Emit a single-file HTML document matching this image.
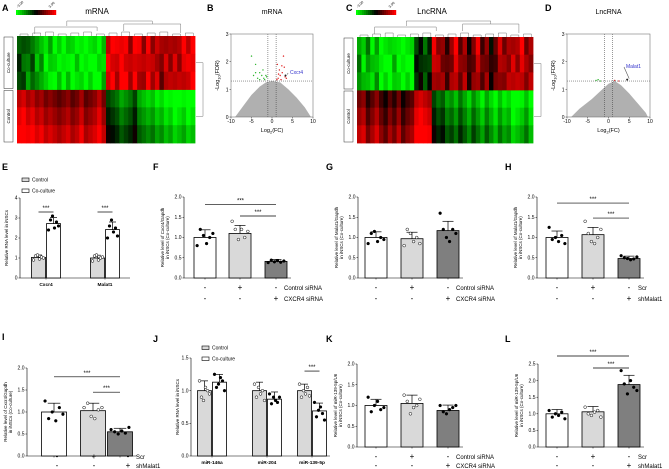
<!DOCTYPE html>
<html><head><meta charset="utf-8">
<style>
html,body{margin:0;padding:0;background:#fff;}
svg{display:block;font-family:"Liberation Sans",sans-serif;}
</style></head>
<body>
<svg id="fig" width="669" height="469" viewBox="0 0 669 469"></svg>
<script>
// ---------- data ----------
const hmA_top=[-0.2,-0.3,-0.5,-0.4,-0.7,-0.6,-0.9,-0.8,-1,-0.9,-1,-0.8,-1,-0.9,-1,-1,-0.9,-1,-1,-0.8,0.9,1,0.8,1,0.9,0.7,1,0.8,0.6,0.9,0.7,0.8,0.5,0.7,0.6,0.8,0.7,0.9,0.8,1];
const hmA_bot=[0.9,1,0.8,0.9,0.7,0.8,0.6,0.7,0.6,0.5,0.6,0.7,0.5,0.6,0.8,0.5,0.6,0.7,0.9,0.6,-0.1,-0.2,-0.3,-0.5,-0.4,-0.3,-0.1,-0.5,-0.6,-0.7,-0.6,-0.8,-0.7,-0.9,-0.8,-1,-0.9,-0.8,-1,-0.9];
const hmC_top=[-0.5,-0.8,-0.6,-0.9,-0.7,-1,-0.9,-1,-0.8,-1,-1,-0.9,-1,-0.2,-0.1,-0.3,-0.1,0.8,0.6,0.5,0.3,0.6,0.9,0.4,0.6,0.2,0.5,0.8,0.3,0.5,0.1,0.4,0.7,0.5,0.6,0.8,0.7,0.9,0.5,0.6];
const hmC_bot=[0.6,0.7,0.3,0.5,0.7,0.4,0.2,0.5,0.3,0.6,0.2,0.4,0.5,0.9,1,0.9,0.8,-0.1,-0.3,-0.2,-0.5,-0.4,-0.6,-0.3,-0.5,-0.7,-0.4,-0.6,-0.8,-0.5,-0.7,-0.9,-0.6,-0.8,-0.7,-1,-0.9,-0.8,-0.6,-0.9];
const volcB_cloud=[[-9,0],[-7,0.4],[-5,0.8],[-3,1.1],[-1.5,1.25],[0,1.3],[2,1.25],[4,1.0],[6,0.7],[8,0.35],[9.5,0]];
const volcB_green=[[-5,2.2],[-4,1.9],[-3,1.6],[-2.5,1.5],[-2,1.4],[-3.5,1.4],[-1.5,1.5],[-4.5,1.5],[-2.2,1.7],[-1.8,1.35],[-3,1.35],[-4,1.6],[-1.3,1.45]];
const volcB_red=[[1.5,1.4],[2,1.5],[2.5,1.6],[3,1.8],[1.8,1.7],[2.2,1.35],[3.2,1.45],[1.3,1.9],[2.8,2.2],[1.6,1.55],[2.4,1.85],[3.5,1.4],[1.2,1.35]];
const volcD_cloud=[[-9,0],[-7,0.3],[-4,0.65],[-1.5,1.0],[0,1.2],[1.5,1.3],[3,1.15],[5,0.85],[7,0.5],[9,0.15],[9.5,0]];
const volcD_green=[[-3,1.32],[-2.5,1.35],[-2,1.3]];
const volcD_red=[[1.5,1.32],[2.5,1.3]];
const E_cats=["Cxcr4","Malat1"];
const E_ctrl=[1.03,1.0], E_ctrlErr=[0.12,0.14];
const E_co=[2.72,2.42], E_coErr=[0.3,0.38];
const E_ctrlPts=[[0.9,1.1,1.15,0.95,1.05,1.0],[0.85,1.1,1.15,0.9,1.0,1.05]];
const E_coPts=[[2.4,2.9,3.1,2.5,2.8,2.6],[2.0,2.6,2.9,2.3,2.5,2.1]];
const F_vals=[1.0,1.1,0.41], F_err=[0.19,0.2,0.05];
const F_pts=[[0.8,1.2,1.05,0.85,1.0,1.1],[1.4,1.2,0.95,1.2,1.0,1.15],[0.38,0.44,0.4,0.43,0.39,0.42]];
const G_vals=[1.0,0.97,1.17], G_err=[0.14,0.16,0.23];
const G_pts=[[0.85,1.1,1.15,0.9,1.0,0.95],[0.8,1.2,1.1,0.9,1.0,0.85],[1.6,1.2,1.0,0.9,1.2,1.1]];
const H_vals=[1.0,1.07,0.48], H_err=[0.16,0.18,0.06];
const H_pts=[[1.25,0.95,1.0,0.9,1.05,0.85],[1.4,1.1,0.9,0.85,1.0,1.2],[0.55,0.5,0.48,0.45,0.47,0.52]];
const I_vals=[1.0,1.03,0.55], I_err=[0.2,0.17,0.08];
const I_pts=[[1.25,0.85,1.0,0.8,1.1,0.95],[1.1,1.2,0.9,0.85,1.05,1.1],[0.6,0.55,0.5,0.57,0.52,0.65]];
const J_cats=["miR-146a","miR-204","miR-139-5p"];
const J_ctrl=[1.0,1.0,1.0], J_ctrlErr=[0.15,0.13,0.1];
const J_co=[1.13,0.87,0.69], J_coErr=[0.12,0.11,0.12];
const J_ctrlPts=[[1.15,0.9,0.85,1.05,1.0,0.95],[1.1,0.9,1.05,0.95,1.0,0.85],[1.1,0.9,1.0,0.95,1.05,0.92]];
const J_coPts=[[1.25,1.05,1.1,1.2,1.15,1.0],[0.95,0.8,0.9,0.85,0.82,0.9],[0.82,0.6,0.7,0.75,0.65,0.55]];
const K_vals=[1.0,1.05,0.88], K_err=[0.15,0.2,0.13];
const K_pts=[[1.2,0.85,1.0,1.1,0.9,0.95],[1.25,1.1,0.8,0.95,1.0,1.15],[1.0,0.85,0.8,0.9,0.95,1.0]];
const L_vals=[1.0,1.06,1.88], L_err=[0.13,0.16,0.28];
const L_pts=[[1.1,0.9,1.0,0.95,1.05,0.85],[1.2,1.0,0.95,1.05,1.1,0.9],[2.3,1.9,1.6,2.0,1.8,1.7]];

// ---------- helpers ----------
const S=document.getElementById('fig');
const NS="http://www.w3.org/2000/svg";
function mk(tag,attrs,parent){const e=document.createElementNS(NS,tag);for(const k in attrs)e.setAttribute(k,attrs[k]);(parent||S).appendChild(e);return e;}
function txt(x,y,s,size,opts,parent){opts=opts||{};const t=mk('text',{x:x,y:y,'font-size':size,'text-anchor':opts.anchor||'start',fill:opts.fill||'#000','font-weight':opts.bold?'bold':'normal'},parent);if(opts.rot)t.setAttribute('transform','rotate(-90 '+x+' '+y+')');t.textContent=s;return t;}
function hmColor(v){v=Math.max(-1,Math.min(1,v));if(v>=0)return 'rgb('+Math.round(255*v)+',0,0)';return 'rgb(0,'+Math.round(255*-v)+',0)';}

[["A",2,11],["B",207,11],["C",346,11],["D",545,11],["E",2,170],["F",153,170],["G",326,170],["H",505,170],["I",2,340],["J",153,342],["K",326,342],["L",505,342]].forEach(p=>{
  const t=txt(p[1],p[2],p[0],9,{bold:true});
  
  
});

// ---------- heatmap ----------
function heatmap(x0,y0,x1,y1,top,bot,title,cbx,tx,name){
  const g=mk('g',{});
  
  
  const n=top.length,w=(x1-x0)/n,ym=(y0+y1)/2,rh=(ym-y0)/3;
  for(let i=0;i<n;i++){
    for(let r=0;r<3;r++){
      const jt=((i*7+r*3)%5-2)*0.08, jb=((i*5+r*2)%5-2)*0.08;
      mk('rect',{x:x0+i*w,y:y0+r*rh,width:w+0.4,height:rh+0.4,fill:hmColor(top[i]+jt)},g);
      mk('rect',{x:x0+i*w,y:ym+r*rh,width:w+0.4,height:rh+0.4,fill:hmColor(bot[i]+jb)},g);
    }
  }
  const cb=mk('g',{},g);
  
  
  for(let i=0;i<20;i++)mk('rect',{x:cbx+i*2,y:10,width:2.2,height:5,fill:hmColor(-1+i/9.5)},cb);
  txt(cbx+2,8,"-3.00",3.5,{},cb).setAttribute('transform','rotate(-45 '+(cbx+2)+' 8)');
  txt(cbx+34,8,"3.00",3.5,{},cb).setAttribute('transform','rotate(-45 '+(cbx+34)+' 8)');
  const tt=txt(tx,14,title,8,{anchor:'middle'},g);
  
  
  [[y0,ym,"Co-culture"],[ym,y1,"Control"]].forEach(rw=>{
    mk('rect',{x:x0-13,y:rw[0]+1,width:9,height:rw[1]-rw[0]-2,fill:'none',stroke:'#333','stroke-width':0.5},g);
    txt(x0-7,(rw[0]+rw[1])/2,rw[2],4.5,{anchor:'middle',rot:true},g);
  });
  const dc='#777',sw=0.5;
  const xl=x0+(x1-x0)*0.28, xr=x0+(x1-x0)*0.76;
  mk('path',{d:`M${xl} 26 V21 H${xr} V24`,stroke:dc,'stroke-width':sw,fill:'none'},g);
  mk('path',{d:`M${x0+(x1-x0)*0.1} 34 V27 H${x0+(x1-x0)*0.45} V31 M${x0+(x1-x0)*0.6} 31 V24 H${x0+(x1-x0)*0.92} V33`,stroke:dc,'stroke-width':sw,fill:'none'},g);
  for(let i=0;i<14;i++){const a=x0+(x1-x0)*(i/14)+3;mk('path',{d:`M${a} ${y0} V${y0-2-(i%3)} H${a+8} V${y0}`,stroke:dc,'stroke-width':sw,fill:'none'},g);}
  mk('path',{d:`M${x1+1} ${(y0+ym)/2} H${x1+8} V${(ym+y1)/2} H${x1+1}`,stroke:dc,'stroke-width':sw,fill:'none'},g);
}
heatmap(17,36,195,143,hmA_top,hmA_bot,"mRNA",16,97,'heatmap-mrna');
heatmap(357,37,533,143,hmC_top,hmC_bot,"LncRNA",356,432,'heatmap-lncrna');

// ---------- volcano ----------
function volcano(x0,y0,x1,y1,cloud,green,red,title,name,gene,gx,gy,lx,ly){
  const g=mk('g',{});
  
  
  const X=v=>x0+(v+10)/20*(x1-x0), Y=v=>y1-v/3*(y1-y0);
  mk('polygon',{points:cloud.map(p=>X(p[0])+','+Y(p[1])).join(' '),fill:'#b0b0b0'},g);
  green.forEach(p=>mk('circle',{cx:X(p[0]),cy:Y(p[1]),r:0.7,fill:'#2db52d'},g));
  red.forEach(p=>mk('circle',{cx:X(p[0]),cy:Y(p[1]),r:0.7,fill:'#e02020'},g));
  mk('line',{x1:X(-1),y1:y0,x2:X(-1),y2:y1,stroke:'#333','stroke-width':0.5,'stroke-dasharray':'1,1'},g);
  mk('line',{x1:X(1),y1:y0,x2:X(1),y2:y1,stroke:'#333','stroke-width':0.5,'stroke-dasharray':'1,1'},g);
  mk('line',{x1:x0,y1:Y(1.3),x2:x1,y2:Y(1.3),stroke:'#333','stroke-width':0.5,'stroke-dasharray':'1,1'},g);
  mk('rect',{x:x0,y:y0,width:x1-x0,height:y1-y0,fill:'none',stroke:'#777','stroke-width':0.6},g);
  [-10,-5,0,5,10].forEach(v=>{mk('line',{x1:X(v),y1:y1,x2:X(v),y2:y1+1.5,stroke:'#333','stroke-width':0.5},g);txt(X(v),y1+6,String(v),5,{anchor:'middle'},g);});
  [0,1,2,3].forEach(v=>{mk('line',{x1:x0-1.5,y1:Y(v),x2:x0,y2:Y(v),stroke:'#333','stroke-width':0.5},g);txt(x0-2.5,Y(v)+2,String(v),5,{anchor:'end'},g);});
  const xt=mk('text',{x:(x0+x1)/2,y:y1+15,'font-size':5.5,'text-anchor':'middle'},g);xt.innerHTML='Log<tspan font-size="4" dy="1.5">2</tspan><tspan dy="-1.5">(FC)</tspan>';
  const yt=mk('text',{x:x0-12,y:(y0+y1)/2,'font-size':5.5,'text-anchor':'middle',transform:`rotate(-90 ${x0-12} ${(y0+y1)/2})`},g);yt.innerHTML='-Log<tspan font-size="4" dy="1.5">10</tspan><tspan dy="-1.5">(FDR)</tspan>';
  txt((x0+x1)/2,14,title,7,{anchor:'middle'},g);
  mk('circle',{cx:X(gx),cy:Y(gy),r:1,fill:'#222'},g);
  mk('line',{x1:lx-2,y1:ly-1,x2:X(gx)+2,y2:Y(gy)-1,stroke:'#555','stroke-width':0.6},g);
  txt(lx,ly,gene,5,{fill:'#3333cc'},g);
}
volcano(231,34,313,117,volcB_cloud,volcB_green,volcB_red,"mRNA",'volcano-mrna',"Cxcr4",3.3,1.5,290,74);
volcano(567,34,650,117,volcD_cloud,volcD_green,volcD_red,"LncRNA",'volcano-lncrna',"Malat1",4.5,1.35,626,68);

// ---------- bar panels ----------
function axisY(g,ax,y0,yTop,max,ticks,fmt){
  const Y=v=>y0-v/max*(y0-yTop);
  mk('line',{x1:ax,y1:y0,x2:ax,y2:yTop,stroke:'#000','stroke-width':0.6},g);
  ticks.forEach(v=>{mk('line',{x1:ax-1.5,y1:Y(v),x2:ax,y2:Y(v),stroke:'#000','stroke-width':0.5},g);txt(ax-2.5,Y(v)+1.7,fmt(v),5,{anchor:'end'},g);});
  return Y;
}
function bar(g,cx,w,Y,y0,v,err,fill,pts,open,name){
  const r=mk('rect',{x:cx-w/2,y:Y(v),width:w,height:y0-Y(v),fill:fill,stroke:'#000','stroke-width':0.8},g);
  
  
  mk('line',{x1:cx,y1:Y(v),x2:cx,y2:Y(v+err),stroke:'#000','stroke-width':0.7},g);
  mk('line',{x1:cx-w/4,y1:Y(v+err),x2:cx+w/4,y2:Y(v+err),stroke:'#000','stroke-width':0.7},g);
  pts.forEach((p,i)=>{const dx=(i-2.5)*w/7;mk('circle',{cx:cx+dx,cy:Y(p),r:1.4,fill:open?'#fff':'#000',stroke:'#000','stroke-width':0.5},g);});
}
function sig(g,xa,xb,yy){mk('line',{x1:xa,y1:yy,x2:xb,y2:yy,stroke:'#000','stroke-width':0.7},g);txt((xa+xb)/2,yy-2,"***",6,{anchor:'middle'},g);}
function threeBar(name,ax,y0,yTop,max,ticks,vals,errs,pts,centers,w,ytitle,sigs,signY,lab1,lab2,labX,signX){
  const g=mk('g',{});
  
  
  const Y=axisY(g,ax,y0,yTop,max,ticks,v=>v.toFixed(1));
  mk('line',{x1:ax,y1:y0,x2:centers[2]+w/2+4,y2:y0,stroke:'#000','stroke-width':0.6},g);
  const fills=['#fff','#d9d9d9','#7f7f7f'],open=[false,true,false];
  vals.forEach((v,i)=>{mk('line',{x1:centers[i],y1:y0,x2:centers[i],y2:y0+1.5,stroke:'#000','stroke-width':0.5},g);bar(g,centers[i],w,Y,y0,v,errs[i],fills[i],pts[i],open[i],'bar-'+(i+1));});
  sigs.forEach(s=>sig(g,centers[s[0]],centers[s[1]],Y(s[2])));
  const tx=ax-20,ty=(y0+yTop)/2;
  txt(tx,ty,ytitle[0],4.5,{anchor:'middle',rot:true},g);
  txt(tx+5,ty,ytitle[1],4.5,{anchor:'middle',rot:true},g);
  const row1=['-','+','-'],row2=['-','-','+'];
  const sx=signX||centers;
  sx.forEach((c,i)=>{txt(c,signY[0],row1[i],8,{anchor:'middle'},g);txt(c,signY[1],row2[i],8,{anchor:'middle'},g);});
  txt(labX,signY[0],lab1,6,{},g);txt(labX,signY[1],lab2,6,{},g);
}
threeBar('panel-f-chart',184,278,197,2,[0,0.5,1,1.5,2],F_vals,F_err,F_pts,[205,240,276],22,["Relative level of Cxcr4/Gapdh","in iNSCs (Co-culture)"],[[0,2,1.81],[1,2,1.53]],[290,301],"Control siRNA","CXCR4 siRNA",284);
threeBar('panel-g-chart',358,278,197,2,[0,0.5,1,1.5,2],G_vals,G_err,G_pts,[376,412,448],22,["Relative level of Malat1/Gapdh","in iNSCs (Co-culture)"],[],[290,301],"Control siRNA","CXCR4 siRNA",456);
threeBar('panel-h-chart',537,278,197,2,[0,0.5,1,1.5,2],H_vals,H_err,H_pts,[557,593,629],22,["Relative level of Malat1/Gapdh","in iNSCs (Co-culture)"],[[0,2,1.85],[1,2,1.48]],[290,301],"Scr","shMalat1",638);
threeBar('panel-i-chart',27,456,368,2,[0,0.5,1,1.5,2],I_vals,I_err,I_pts,[54,93,120],25,["Relative level of Cxcr4/Gapdh","in iNSCs (Co-culture)"],[[0,2,1.8],[1,2,1.45]],[459,468],"Scr","shMalat1",136,[57,94,128]);
threeBar('panel-k-chart',357,447,364,2,[0,0.5,1,1.5,2],K_vals,K_err,K_pts,[376,412,448],22,["Relative level of miR-139-5p/U6","in iNSCs (Co-culture)"],[],[459,468],"Control siRNA","CXCR4 siRNA",456);
threeBar('panel-l-chart',538,447,364,2.5,[0,0.5,1,1.5,2,2.5],L_vals,L_err,L_pts,[557,593,629],22,["Relative level of miR-139-5p/U6","in iNSCs (Co-culture)"],[[0,2,2.74],[1,2,2.38]],[459,468],"Scr","shMalat1",638);

function groupBar(name,ax,y0,yTop,max,ticks,cats,cv,ce,cp,ov,oe,op,centers,w,xEnd,ytitle,sigs,legY,legX,fmt){
  const g=mk('g',{});
  
  
  const Y=axisY(g,ax,y0,yTop,max,ticks,fmt);
  mk('line',{x1:ax,y1:y0,x2:xEnd,y2:y0,stroke:'#000','stroke-width':0.6},g);
  cats.forEach((c,i)=>{
    const a=centers[i]-w/2-0.5,b=centers[i]+w/2+0.5;
    bar(g,a,w,Y,y0,cv[i],ce[i],'#d9d9d9',cp[i],true,'bar-control-'+i);
    bar(g,b,w,Y,y0,ov[i],oe[i],'#fff',op[i],false,'bar-coculture-'+i);
    mk('line',{x1:centers[i],y1:y0,x2:centers[i],y2:y0+1.5,stroke:'#000','stroke-width':0.5},g);
    txt(centers[i],y0+8,c,4.8,{anchor:'middle',bold:true},g);
    if(sigs[i]!=null)sig(g,a,b,Y(sigs[i]));
  });
  txt(ax-12,(y0+yTop)/2,ytitle,4.5,{anchor:'middle',rot:true},g);
  const l1=mk('g',{},g);
  
  
  mk('rect',{x:legX,y:legY-3,width:7,height:3.5,fill:'#d9d9d9',stroke:'#000','stroke-width':0.6},l1);
  txt(legX+10,legY+0.5,"Control",5,{},l1);
  const l2=mk('g',{},g);
  
  
  mk('rect',{x:legX,y:legY+8,width:7,height:3.5,fill:'#fff',stroke:'#000','stroke-width':0.6},l2);
  txt(legX+10,legY+11.5,"Co-culture",5,{},l2);
}
groupBar('panel-e-chart',20,278,198,4,[0,1,2,3,4],E_cats,E_ctrl,E_ctrlErr,E_ctrlPts,E_co,E_coErr,E_coPts,[46,105],14,130,"Relative RNA level in iNSCs",[3.3,3.3],181,22,v=>String(v));
groupBar('panel-j-chart',191,456,358,1.5,[0,0.5,1,1.5],J_cats,J_ctrl,J_ctrlErr,J_ctrlPts,J_co,J_coErr,J_coPts,[212,267,312],14,330,"Relative RNA level in iNSCs",[null,null,1.3],349,202,v=>v.toFixed(1));
</script>
</body></html>
